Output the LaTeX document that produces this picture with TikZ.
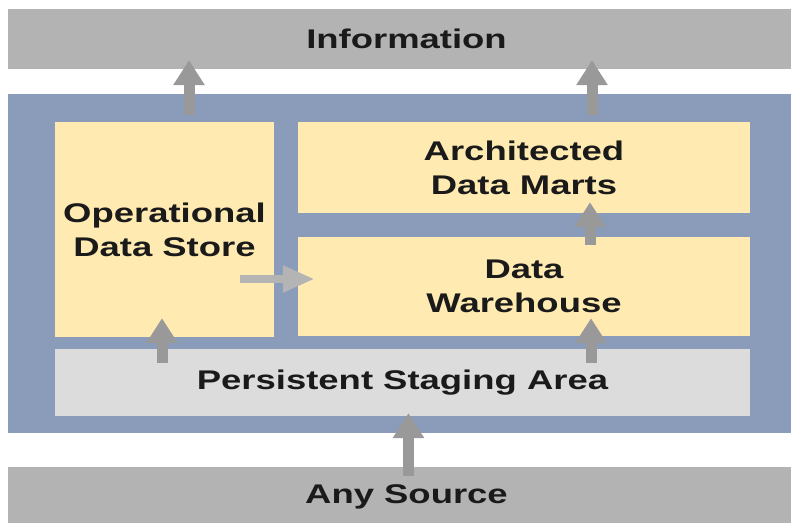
\documentclass[tikz,border=0pt]{standalone}
\usepackage{fontspec}
\setmainfont{Liberation Sans}[FakeStretch=1.35]
\usetikzlibrary{arrows.meta,calc}
\definecolor{ink}{HTML}{1A1A1A}
\definecolor{layergrey}{HTML}{B3B3B3}
\definecolor{framebl}{HTML}{8A9CB9}
\definecolor{storeyel}{HTML}{FFEAB2}
\definecolor{stagegrey}{HTML}{DCDCDC}
\definecolor{flowgrey}{HTML}{999999}
\definecolor{flowlight}{HTML}{B4B4B4}

\begin{document}
\begin{tikzpicture}[x=1pt,y=1pt,font=\bfseries\fontsize{27}{34}\selectfont,
  box/.style={inner sep=0pt,align=center,text=ink},
  flow/.style={draw=flowgrey,line width=11pt,-{Triangle[length=25pt,width=30pt]}}]
  \useasboundingbox (0,0) rectangle (791,522);
  \clip (0,0) rectangle (791,522);

  % outer layers
  \node[box,fill=layergrey,minimum width=797pt,minimum height=60pt] (info) at (406.5,483) {Information};
  \node[box,fill=layergrey,minimum width=797pt,minimum height=60pt] (src) at (406.5,25) {Any Source};
  \node[box,fill=framebl,minimum width=797pt,minimum height=339pt] (frame) at (406.5,258.5) {};

  % stores inside the frame
  \node[box,fill=storeyel,minimum width=219pt,minimum height=215pt] (ods) at (164.5,292.5) {Operational\\Data Store};
  \node[box,fill=storeyel,minimum width=452pt,minimum height=91pt] (adm) at (524,354.5) {Architected\\Data Marts};
  \node[box,fill=storeyel,minimum width=452pt,minimum height=99pt] (dw) at (524,235.5) {Data\\Warehouse};
  \node[box,fill=stagegrey,minimum width=695pt,minimum height=67pt] (psa) at (402.5,139.5) {Persistent Staging Area};

  % data flows
  \draw[flow] ($(ods.north)+(24.5,7)$) -- ($(ods.north |- info.south)+(24.5,9)$);
  \draw[flow] ($(adm.north)+(68,7)$) -- ($(adm.north |- info.south)+(68,9)$);
  \draw[flow] ($(dw.north)+(66,-8)$) -- ($(dw.north |- adm.south)+(66,11)$);
  \draw[flow] ($(psa.north -| ods.south)+(-2.5,-14)$) -- ($(ods.south)+(-2.5,19)$);
  \draw[flow] ($(psa.north -| dw.south)+(67,-14)$) -- ($(dw.south)+(67,18)$);
  \draw[flow] ($(src.north)+(2,-9)$) -- ($(psa.south -| src.north)+(2,3)$);
  \draw[flow,draw=flowlight,line width=8pt,-{Triangle[length=32pt,width=25pt]}]
       ($(ods.east)+(-34,-49.5)$) -- ($(dw.west)+(17,7.5)$);
\end{tikzpicture}
\end{document}
